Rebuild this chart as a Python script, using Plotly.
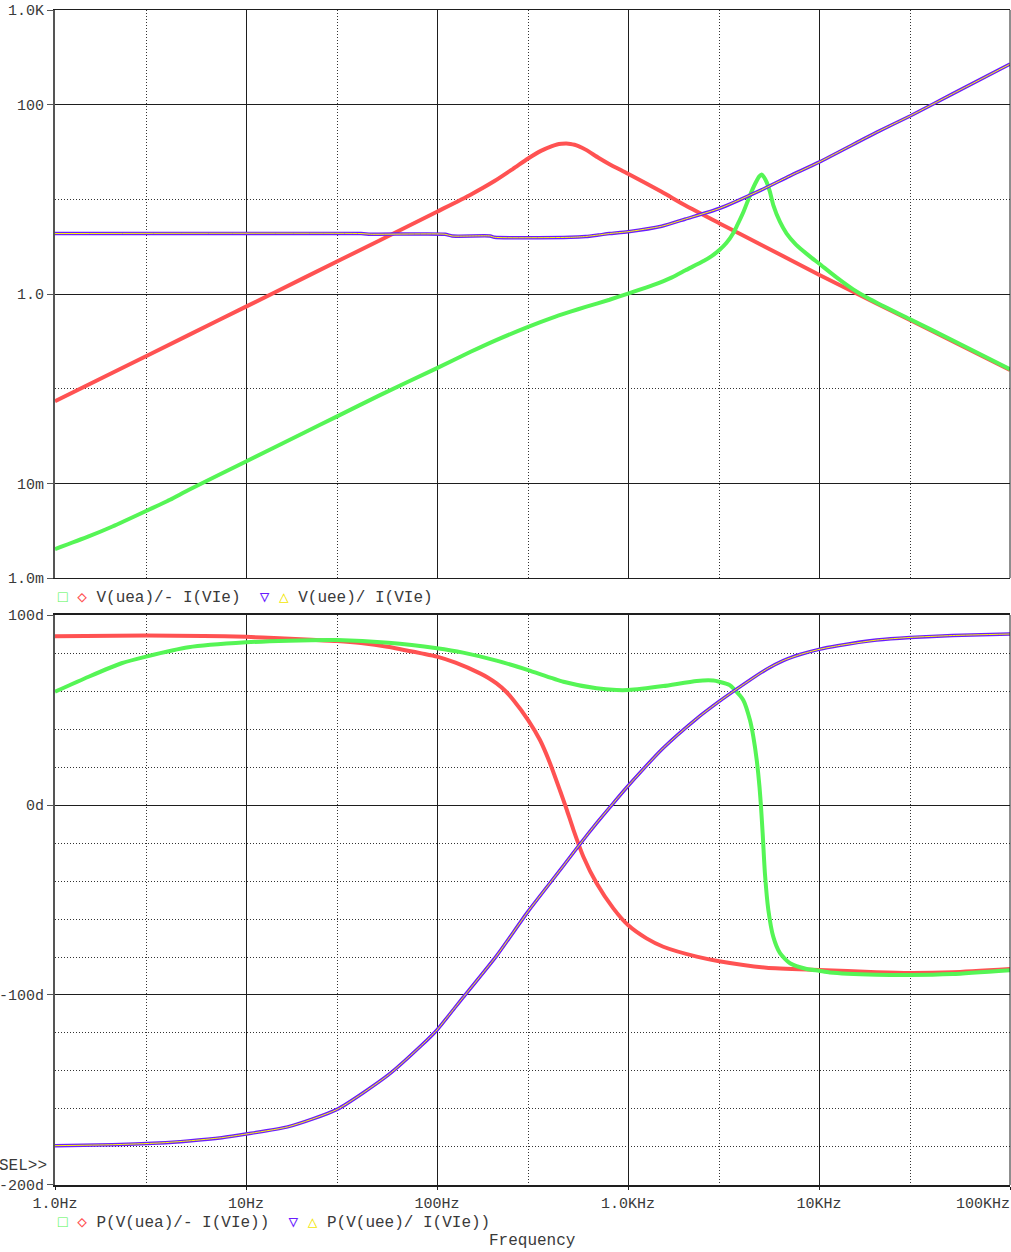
import plotly.graph_objects as go

# ---------------- data ----------------
# Top plot: magnitudes (ohm)
red_mag_f = [1, 2, 5, 10, 20, 50, 100, 150, 200, 250, 300, 350, 400, 425, 450, 475, 500, 525,
             550, 600, 700, 800, 1000, 1500, 2000, 3000, 5000, 10000, 20000, 50000, 100000]
red_mag = [0.0735, 0.147, 0.368, 0.735, 1.47, 3.68, 7.4, 11.2, 15.6, 21.0, 27.0, 32.5, 36.5,
           38.0, 38.6, 38.8, 38.5, 37.7, 36.5, 33.5, 27.5, 23.5, 18.6, 12.0, 8.6, 5.6, 3.3,
           1.6, 0.795, 0.317, 0.158]

green_mag_f = [1, 1.5, 2, 3, 4, 5, 10, 20, 30, 50, 100, 150, 200, 300, 400, 500, 600, 800,
               1000, 1350, 1700, 2000, 2500, 2740, 3030, 3280, 3560, 3710, 4020, 4350, 4630,
               4870, 5010, 5150, 5320, 5540, 5770, 6250, 6770, 7490, 8270, 9150, 10000, 12400,
               15100, 18500, 30000, 50000, 100000]
green_mag = [0.00202, 0.00275, 0.0035, 0.0051, 0.0067, 0.0085, 0.0170, 0.034, 0.051, 0.085,
             0.165, 0.245, 0.32, 0.45, 0.56, 0.65, 0.73, 0.87, 1.01, 1.24, 1.5, 1.78, 2.24,
             2.51, 2.95, 3.47, 4.42, 5.2, 7.35, 11.0, 14.6, 17.5, 18.3, 17.2, 15.2, 11.9, 8.65,
             5.77, 4.35, 3.41, 2.84, 2.41, 2.10, 1.49, 1.12, 0.88, 0.54, 0.325, 0.16]

purple_mag_f = [1, 40, 45, 110, 120, 190, 200, 500, 600, 700, 800, 1000, 1500, 2000, 3000,
                5000, 7000, 10000, 20000, 30000, 50000, 100000]
purple_mag = [4.35, 4.35, 4.28, 4.28, 4.1, 4.1, 3.97, 3.97, 4.05, 4.2, 4.35, 4.55, 5.2, 6.2,
              8.0, 12.6, 17.6, 24.7, 51, 76, 130, 268]

# Bottom plot: phases (degrees)
red_ph_f = [1, 3, 6, 10, 15, 22, 30, 40, 55, 83, 100, 125, 168, 185, 205, 228, 251, 300, 346,
            391, 441, 478, 517, 584, 685, 838, 1000, 1250, 1530, 2290, 3000, 5300, 10000,
            20000, 30000, 50000, 100000]
red_ph = [88.8, 89.2, 89.0, 88.5, 87.8, 87.0, 86.3, 85.2, 83.3, 79.8, 78.1, 74.9, 69.3, 67.0,
          64.0, 60.0, 55.3, 44.7, 34.2, 21.9, 7.5, -2.5, -12.8, -27.2, -41.2, -54.4, -63.2,
          -70.2, -74.6, -79.8, -82.2, -85.6, -86.8, -88.0, -88.4, -88.0, -86.3]

green_ph_f = [1, 1.5, 2.23, 3, 5, 10, 16.7, 30, 55.6, 100, 137, 205, 300, 459, 685, 871, 1000,
              1530, 2290, 2800, 3000, 3400, 3560, 4010, 4350, 4530, 4720, 4880, 4970, 5070,
              5210, 5430, 5760, 6250, 7050, 8610, 10000, 11400, 20000, 30000, 50000, 100000]
green_ph = [59.6, 67.5, 74.6, 78.1, 83.0, 85.6, 86.5, 86.8, 85.4, 82.5, 80.2, 76.0, 71.0, 64.9,
            61.4, 60.5, 60.5, 62.6, 65.3, 65.5, 64.9, 63.2, 61.4, 55.3, 44.7, 36.0, 23.7, 9.6,
            -0.9, -14.9, -36.0, -55.3, -69.3, -78.0, -83.3, -86.3, -87.2, -88.1, -89.3, -89.5,
            -89.0, -87.0]

purple_ph_f = [1, 2, 3.5, 5, 7.46, 10, 16.7, 30, 55.6, 83, 100, 124, 137, 205, 300, 459, 561,
               685, 822, 1000, 1530, 2290, 3000, 3560, 5320, 6500, 7950, 10000, 12500, 20000,
               30000, 50000, 100000]
purple_ph = [-179.3, -178.8, -177.9, -176.8, -175.1, -173.2, -169.3, -160.2, -142.1, -126.5,
             -118.4, -106.7, -101.3, -79.4, -56.0, -32.0, -20.5, -9.5, 0.0, 10.0, 30.0, 45.5,
             54.5, 59.8, 71.5, 76.0, 79.2, 81.9, 83.8, 86.8, 88.2, 89.2, 90.0]

# Axis ticks
freq_ticks = [1, 10, 100, 1000, 10000, 100000]
freq_labels = ["1.0Hz", "10Hz", "100Hz", "1.0KHz", "10KHz",
               "100KHz\u00a0\u00a0\u00a0\u00a0\u00a0\u00a0"]
freq_minor = [3, 30, 300, 3000, 30000]
mag_ticks = [0.001, 0.01, 1, 100, 1000]
mag_labels = ["1.0m", "10m", "1.0", "100", "1.0K"]
mag_minor = [0.1, 10]
ph_ticks = [-200, -100, 0, 100]
ph_labels = ["-200d", "-100d", "0d", "100d"]

# ---------------- styling ----------------
RED = "#ff5252"
GREEN = "#55f555"
PURPLE = "#6a1cff"
YELLOW = "#ffff00"
FONT = "Liberation Mono, DejaVu Sans Mono, monospace"
TXT = "#3a3a3a"
GRID = "#1e1e1e"

fig = go.Figure()

def add(x, y, color, width, xa, ya):
    fig.add_trace(go.Scatter(x=x, y=y, mode="lines", showlegend=False, hoverinfo="skip",
                             line=dict(color=color, width=width, shape="spline", smoothing=0.6),
                             xaxis=xa, yaxis=ya))

add(red_mag_f, red_mag, RED, 4, "x", "y")
add(green_mag_f, green_mag, GREEN, 4, "x", "y")
add(purple_mag_f, purple_mag, PURPLE, 3.5, "x", "y")
add(purple_mag_f, purple_mag, YELLOW, 1, "x", "y")

add(red_ph_f, red_ph, RED, 4, "x2", "y2")
add(green_ph_f, green_ph, GREEN, 4, "x2", "y2")
add(purple_ph_f, purple_ph, PURPLE, 3.5, "x2", "y2")
add(purple_ph_f, purple_ph, YELLOW, 1, "x2", "y2")

tickfont = dict(family=FONT, size=15, color=TXT)
dotted = "1px,2px"

common_x = dict(type="log", range=[0, 5], tickmode="array", tickvals=freq_ticks,
                showgrid=True, gridcolor=GRID, gridwidth=1, zeroline=False,
                minor=dict(tickmode="array", tickvals=freq_minor, showgrid=True,
                           gridcolor="#333333", griddash=dotted, gridwidth=1),
                showline=True, mirror=True, linecolor=GRID, tickfont=tickfont,
                automargin=False)

fig.update_layout(
    width=1011, height=1252,
    margin=dict(l=55, r=1, t=10, b=67, autoexpand=False),
    paper_bgcolor="white", plot_bgcolor="white",
    xaxis=dict(common_x, domain=[0, 1], anchor="y", showticklabels=False, ticks="",
               linewidth=1),
    yaxis=dict(type="log", range=[-3, 3], domain=[0.5166, 1], anchor="x",
               tickmode="array", tickvals=mag_ticks, ticktext=mag_labels,
               showgrid=True, gridcolor=GRID, gridwidth=1, zeroline=False,
               minor=dict(tickmode="array", tickvals=mag_minor, showgrid=True,
                          gridcolor="#333333", griddash=dotted, gridwidth=1),
               showline=True, linecolor="#555555", linewidth=2,
               ticks="outside", ticklen=6, tickcolor="#555555", tickwidth=1,
               tickfont=tickfont, automargin=False),
    xaxis2=dict(common_x, domain=[0, 1], anchor="y2", ticktext=freq_labels,
                ticks="outside", ticklen=3, tickcolor=GRID, tickwidth=1, linewidth=2,
                ticklabeloverflow="allow"),
    yaxis2=dict(range=[-200, 100], domain=[0, 0.4851], anchor="x2",
                tickmode="array", tickvals=ph_ticks, ticktext=ph_labels,
                showgrid=True, gridcolor=GRID, gridwidth=1, zeroline=False,
                minor=dict(dtick=20, showgrid=True, gridcolor="#333333",
                           griddash=dotted, gridwidth=1),
                showline=True, linecolor="#555555", linewidth=2,
                ticks="outside", ticklen=6, tickcolor="#555555", tickwidth=1,
                tickfont=tickfont, automargin=False),
    shapes=[
        dict(type="line", xref="x domain", yref="y domain", x0=1, x1=1, y0=0, y1=1,
             line=dict(color=GRID, width=1)),
        dict(type="line", xref="x2 domain", yref="y2 domain", x0=1, x1=1, y0=0, y1=1,
             line=dict(color=GRID, width=1)),
    ],
)

def sym(ch, color):
    return f'<span style="color:{color}">{ch}</span>'

leg1 = (sym("□", GREEN) + " " + sym("◇", RED) + " V(uea)/- I(VIe)  "
        + sym("▽", PURPLE) + " " + sym("△", "#f2e600") + " V(uee)/ I(VIe)")
leg2 = (sym("□", GREEN) + " " + sym("◇", RED) + " P(V(uea)/- I(VIe))  "
        + sym("▽", PURPLE) + " " + sym("△", "#f2e600") + " P(V(uee)/ I(VIe))")

annfont = dict(family=FONT, size=16, color=TXT)
fig.add_annotation(text=leg1, xref="paper", yref="paper", x=0, y=0.4996, xanchor="left",
                   yanchor="middle", showarrow=False, font=annfont, xshift=1)
fig.add_annotation(text=leg2, xref="paper", yref="paper", x=0, y=-0.0325, xanchor="left",
                   yanchor="middle", showarrow=False, font=annfont, xshift=1)
fig.add_annotation(text="Frequency", xref="paper", yref="paper", x=0.5005, y=-0.0477,
                   xanchor="center", yanchor="middle", showarrow=False, font=annfont)
fig.add_annotation(text="SEL>>", xref="paper", yref="paper", x=0, y=0.0162,
                   xanchor="right", yanchor="middle", showarrow=False, font=annfont,
                   xshift=-6)

# remove the browser's default 8px page margin so the figure sits at the window origin
fig.write_html("out.html", config={"displayModeBar": False},
               post_script="document.body.style.margin='0px';")
